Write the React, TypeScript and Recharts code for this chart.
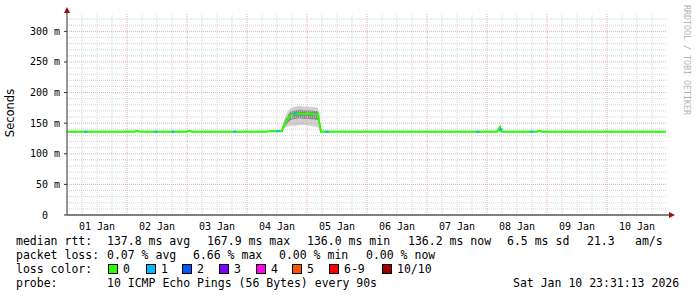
import React from 'react';
import { ComposedChart, Area, Line, Scatter, XAxis, YAxis, ReferenceLine } from 'recharts';

// time in hours since 01 Jan 00:00
const times = [0, 27, 28, 29, 48, 49, 50, 80, 81, 86, 86.6, 87.5, 88.4, 89.5, 91, 93, 95, 97, 99, 100.4, 101, 101.6, 172, 173.2, 173.8, 188, 189, 190, 239.5];
const median = [136, 136, 137.5, 136, 136, 137.5, 136, 136, 137, 137, 145, 152, 157, 163, 165, 166, 165, 166, 164, 165, 150, 136, 136, 144, 136, 136, 137.5, 136, 136];
const smokeHi = [137.5, 137.5, 139, 137.5, 137.5, 139, 137.5, 137.5, 138.5, 139, 152, 163, 170, 175, 177, 178, 177, 177, 176, 175, 160, 138, 137.5, 147, 137.5, 137.5, 139, 137.5, 137.5];
const smokeLo = [135, 135, 135.5, 135, 135, 135.5, 135, 135, 135.5, 135.5, 140, 143, 145, 146, 146, 147, 147, 146, 145, 143, 138, 135, 135, 136, 135, 135, 135.5, 135, 135];
const innerHi = [136.8, 136.8, 138.3, 136.8, 136.8, 138.3, 136.8, 136.8, 137.8, 137.8, 148, 157, 163, 169, 171, 172, 171, 171, 170, 170, 155, 137, 136.8, 145.5, 136.8, 136.8, 138.3, 136.8, 136.8];
const innerLo = [135.4, 135.4, 136.5, 135.4, 135.4, 136.5, 135.4, 135.4, 136.2, 136.2, 142, 147, 151, 155, 157, 158, 157, 157, 156, 155, 144, 135.4, 135.4, 138, 135.4, 135.4, 136.5, 135.4, 135.4];

const lossTimes = [7.6, 35.6, 42.4, 67.2, 84.4, 91.2, 104, 164.4, 173.6, 186];
const lossValues = [136, 136, 136, 136, 137, 166, 136, 136, 140, 136];

const yTicks = [0, 50, 100, 150, 200, 250, 300];
const xTicks = [12, 36, 60, 84, 108, 132, 156, 180, 204, 228];
const xLabels = ['01 Jan', '02 Jan', '03 Jan', '04 Jan', '05 Jan', '06 Jan', '07 Jan', '08 Jan', '09 Jan', '10 Jan'];

const minorY = [10, 20, 30, 40, 60, 70, 80, 90, 110, 120, 130, 140, 160, 170, 180, 190, 210, 220, 230, 240, 260, 270, 280, 290, 310, 320];
const majorY = [50, 100, 150, 200, 250, 300];
const minorX = [6, 12, 18, 30, 36, 42, 54, 60, 66, 78, 84, 90, 102, 108, 114, 126, 132, 138, 150, 156, 162, 174, 180, 186, 198, 204, 210, 222, 228, 234];
const majorX = [24, 48, 72, 96, 120, 144, 168, 192, 216];

const lossLabels = ['0', '1', '2', '3', '4', '5', '6-9', '10/10'];
const lossColors = ['#26ff00', '#00b8ff', '#0059ff', '#7e00ff', '#ff00ea', '#ff5500', '#ff0000', '#a10000'];

const row1 = ['median rtt:', '137.8 ms avg', '167.9 ms max', '136.0 ms min', '136.2 ms now', '6.5 ms sd', '21.3', 'am/s'];
const row2 = ['packet loss:', '0.07 % avg', '6.66 % max', '0.00 % min', '0.00 % now'];
const row4 = ['probe:', '10 ICMP Echo Pings (56 Bytes) every 90s', 'Sat Jan 10 23:31:13 2026'];

const data = times.map((t, i) => ({
  t,
  med: median[i],
  smoke: [smokeLo[i], smokeHi[i]],
  inner: [innerLo[i], innerHi[i]],
}));
const lossData = lossTimes.map((t, i) => ({ t, med: lossValues[i] }));

const MONO = '"DejaVu Sans Mono", monospace';

const YTick = (props: any) => {
  const { x, y, payload } = props;
  const v = payload.value;
  const label = v === 0 ? '0  ' : `${v} m`;
  return (
    <text x={x} y={y} dy={3.5} textAnchor="end" fontFamily={MONO} fontSize={10} fill="#000" style={{ whiteSpace: 'pre' }}>
      {label}
    </text>
  );
};

const XTick = (props: any) => {
  const { x, y, payload } = props;
  const idx = xTicks.indexOf(payload.value);
  return (
    <text x={x} y={y} dy={7} textAnchor="middle" fontFamily={MONO} fontSize={10} fill="#000">
      {xLabels[idx]}
    </text>
  );
};

const LossDot = (props: any) => {
  const { cx, cy } = props;
  return <rect x={cx - 1.5} y={cy - 1} width={3} height={2} fill={lossColors[1]} />;
};

const legendX1 = [16, 107, 207, 307, 408, 507, 587, 635];
const legendX2 = [16, 107, 193, 279, 366];
const legendX4 = [16, 107, 513];
const boxX = [108, 146, 182, 219, 256, 292, 329, 382];

export default function App() {
  return (
    <div style={{ position: 'absolute', left: 0, top: 0, width: 697, height: 297, background: '#fff' }}>
      <ComposedChart width={697} height={297} data={data} margin={{ top: 13, right: 30, bottom: 52, left: 7 }}>
        <XAxis
          type="number"
          dataKey="t"
          domain={[0, 240]}
          ticks={xTicks}
          tick={<XTick />}
          tickLine={false}
          axisLine={{ stroke: '#000' }}
          height={30}
          allowDataOverflow
        />
        <YAxis
          type="number"
          domain={[0, 330]}
          ticks={yTicks}
          tick={<YTick />}
          tickLine={{ stroke: '#333' }}
          tickSize={3}
          tickMargin={4}
          axisLine={{ stroke: '#333' }}
          width={60}
          allowDataOverflow
        />
        <Area type="linear" dataKey="smoke" stroke="none" fill="#cfcfcf" fillOpacity={1} isAnimationActive={false} />
        <Area type="linear" dataKey="inner" stroke="none" fill="#8a8a8a" fillOpacity={1} isAnimationActive={false} />
        {minorY.map((v) => (
          <ReferenceLine key={'my' + v} y={v} stroke="#d4d4d4" strokeDasharray="1 1" />
        ))}
        {minorX.map((v) => (
          <ReferenceLine key={'mx' + v} x={v} stroke="#d4d4d4" strokeDasharray="1 1" />
        ))}
        {majorY.map((v) => (
          <ReferenceLine key={'My' + v} y={v} stroke="#dcb0b0" strokeDasharray="1 1" />
        ))}
        {majorX.map((v) => (
          <ReferenceLine key={'Mx' + v} x={v} stroke="#dcb0b0" strokeDasharray="1 1" />
        ))}
        <Line type="linear" dataKey="med" stroke={lossColors[0]} strokeWidth={2} dot={false} isAnimationActive={false} />
        <Scatter data={lossData} dataKey="med" shape={<LossDot />} isAnimationActive={false} />
      </ComposedChart>
      <svg width={697} height={297} style={{ position: 'absolute', left: 0, top: 0, pointerEvents: 'none' }}>
        <polygon points="67,7 64,13 70,13" fill="#a01010" />
        <line x1={67} y1={13} x2={67} y2={10} stroke="#333" />
        <line x1={667} y1={215} x2={670} y2={215} stroke="#000" />
        <polygon points="675,215 669,212 669,218" fill="#a01010" />
        <text
          transform="translate(14,113) rotate(-90)"
          textAnchor="middle"
          fontFamily='"DejaVu Sans", sans-serif'
          fontSize={11.5}
          fill="#000"
        >
          Seconds
        </text>
        <text
          transform="translate(684,5) rotate(90)"
          textAnchor="start"
          fontFamily={MONO}
          fontSize={8.3}
          fill="#b4b4b4"
        >
          RRDTOOL / TOBI OETIKER
        </text>
        <g fontFamily={MONO} fontSize={11.5} fill="#000">
          {row1.map((s, i) => (
            <text key={'r1' + i} x={legendX1[i]} y={245}>{s}</text>
          ))}
          {row2.map((s, i) => (
            <text key={'r2' + i} x={legendX2[i]} y={259}>{s}</text>
          ))}
          <text x={16} y={273}>loss color:</text>
          {lossLabels.map((s, i) => (
            <g key={'lc' + i}>
              <rect x={boxX[i] + 0.5} y={264.5} width={9} height={9} fill={lossColors[i]} stroke="#000" strokeWidth={1} />
              <text x={boxX[i] + 15} y={273}>{s}</text>
            </g>
          ))}
          {row4.map((s, i) => (
            <text key={'r4' + i} x={legendX4[i]} y={287}>{s}</text>
          ))}
        </g>
      </svg>
    </div>
  );
}
